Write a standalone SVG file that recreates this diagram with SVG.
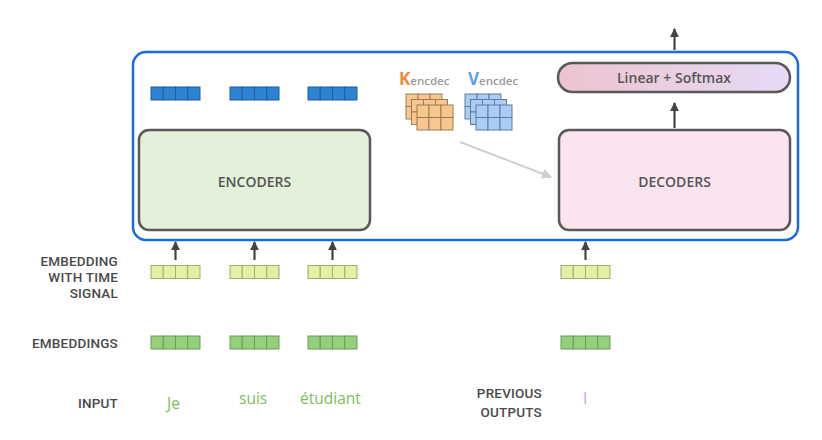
<svg xmlns="http://www.w3.org/2000/svg" width="822" height="440" viewBox="0 0 822 440">
<defs>
<style>
.lbl{font-family:Roboto,"Liberation Sans",sans-serif;font-size:13.5px;font-weight:500;fill:#4a4a4a;letter-spacing:0.2px}
.box{font-family:"Open Sans","Liberation Sans",sans-serif;font-size:14px;font-weight:600;fill:#555}
.word{font-family:"Open Sans","Liberation Sans",sans-serif;font-size:15.5px;fill:#7cc05a}
.blue{fill:#2d82d2;stroke:#1d5f9e;stroke-width:1}
.yel{fill:#e5f0a6;stroke:#a3ab72;stroke-width:1}
.grn{fill:#94d07c;stroke:#6b9b5a;stroke-width:1}
.kg{fill:#f8c78e;stroke:#9c7c58;stroke-width:1}
.vg{fill:#aacdf6;stroke:#5f7c9c;stroke-width:1}
.arr{stroke:#444;stroke-width:2.2;fill:none;marker-end:url(#ah)}
</style>
<marker id="ah" viewBox="0 0 10 10" refX="9" refY="5" markerWidth="4" markerHeight="4" orient="auto" markerUnits="strokeWidth"><path d="M0,0 L10,5 L0,10 z" fill="#444"/></marker>
<marker id="ahg" viewBox="0 0 10 10" refX="9" refY="5" markerWidth="5" markerHeight="5" orient="auto" markerUnits="strokeWidth"><path d="M0,0 L10,5 L0,10 z" fill="#cfcfcf"/></marker>
<linearGradient id="ls" x1="0" y1="0" x2="1" y2="0"><stop offset="0" stop-color="#ecc3cf"/><stop offset="1" stop-color="#e6dbf6"/></linearGradient>
<g id="vec"><rect x="0" y="0" width="12.25" height="13"/><rect x="12.25" y="0" width="12.25" height="13"/><rect x="24.5" y="0" width="12.25" height="13"/><rect x="36.75" y="0" width="12.25" height="13"/></g>
<g id="mat"><rect x="0" y="0" width="12" height="12.5"/><rect x="12" y="0" width="12" height="12.5"/><rect x="24" y="0" width="12" height="12.5"/><rect x="0" y="12.5" width="12" height="12.5"/><rect x="12" y="12.5" width="12" height="12.5"/><rect x="24" y="12.5" width="12" height="12.5"/></g>
</defs>
<rect width="822" height="440" fill="#fff"/>

<g id="container"><rect x="133" y="52" width="665" height="188" rx="13" fill="none" stroke="#1a6ae0" stroke-width="2.5"/></g>

<g id="encoder-outputs" class="blue">
<use href="#vec" x="151" y="87"/>
<use href="#vec" x="230" y="87"/>
<use href="#vec" x="308" y="87"/>
</g>

<g id="encoders"><rect x="139" y="130" width="231" height="100" rx="10" fill="#e3f0da" stroke="#595959" stroke-width="2.5"/><text class="box" x="254.5" y="187" text-anchor="middle">ENCODERS</text></g>

<g id="decoders"><rect x="559" y="130" width="231" height="100" rx="10" fill="#fae4ef" stroke="#595959" stroke-width="2.5"/><text class="box" x="674.5" y="187" text-anchor="middle">DECODERS</text></g>

<g id="linear-softmax"><rect x="558" y="63" width="232" height="29" rx="14.5" fill="url(#ls)" stroke="#595959" stroke-width="2.5"/><text class="box" x="674" y="82.5" text-anchor="middle">Linear + Softmax</text></g>

<g id="k-encdec">
<text x="399" y="85" font-family="'Open Sans','Liberation Sans',sans-serif"><tspan font-size="17" font-weight="700" fill="#f08a35">K</tspan><tspan font-size="11.5" font-weight="600" fill="#9a9a9a">encdec</tspan></text>
<g class="kg"><use href="#mat" x="406" y="94"/><use href="#mat" x="411.5" y="99.5"/><use href="#mat" x="417" y="105"/></g>
</g>
<g id="v-encdec">
<text x="468" y="85" font-family="'Open Sans','Liberation Sans',sans-serif"><tspan font-size="17" font-weight="700" fill="#5a9ff2">V</tspan><tspan font-size="11.5" font-weight="600" fill="#9a9a9a">encdec</tspan></text>
<g class="vg"><use href="#mat" x="465" y="94"/><use href="#mat" x="470.5" y="99.5"/><use href="#mat" x="476" y="105"/></g>
</g>

<g id="time-embeddings" class="yel">
<use href="#vec" x="151" y="265.5"/>
<use href="#vec" x="230" y="265.5"/>
<use href="#vec" x="308" y="265.5"/>
<use href="#vec" x="561" y="265.5"/>
</g>

<g id="embeddings" class="grn">
<use href="#vec" x="151" y="336"/>
<use href="#vec" x="230" y="336"/>
<use href="#vec" x="308" y="336"/>
<use href="#vec" x="561" y="336"/>
</g>

<g id="connectors">
<line class="arr" x1="175.5" y1="260" x2="175.5" y2="242"/>
<line class="arr" x1="254.5" y1="260" x2="254.5" y2="242"/>
<line class="arr" x1="332.5" y1="260" x2="332.5" y2="242"/>
<line class="arr" x1="585.5" y1="260" x2="585.5" y2="242"/>
<line class="arr" x1="674.5" y1="128" x2="674.5" y2="103"/>
<line class="arr" x1="674.5" y1="50" x2="674.5" y2="29"/>
<line x1="460" y1="142" x2="551" y2="177" stroke="#cfcfcf" stroke-width="2" marker-end="url(#ahg)"/>
</g>

<g id="labels">
<text class="lbl" text-anchor="end"><tspan x="118" y="265.5">EMBEDDING</tspan><tspan x="118" y="281.5">WITH TIME</tspan><tspan x="118" y="297.5">SIGNAL</tspan></text>
<text class="lbl" x="118" y="348" text-anchor="end">EMBEDDINGS</text>
<text class="lbl" x="118" y="407.5" text-anchor="end">INPUT</text>
<text class="lbl" text-anchor="end"><tspan x="542" y="398">PREVIOUS</tspan><tspan x="542" y="417">OUTPUTS</tspan></text>
</g>

<g id="inputs">
<text class="word" x="167" y="408.5">Je</text>
<text class="word" x="239" y="404">suis</text>
<text class="word" x="300" y="404">étudiant</text>
<text class="word" x="583" y="404" style="fill:#c9a2df">I</text>
</g>
</svg>
